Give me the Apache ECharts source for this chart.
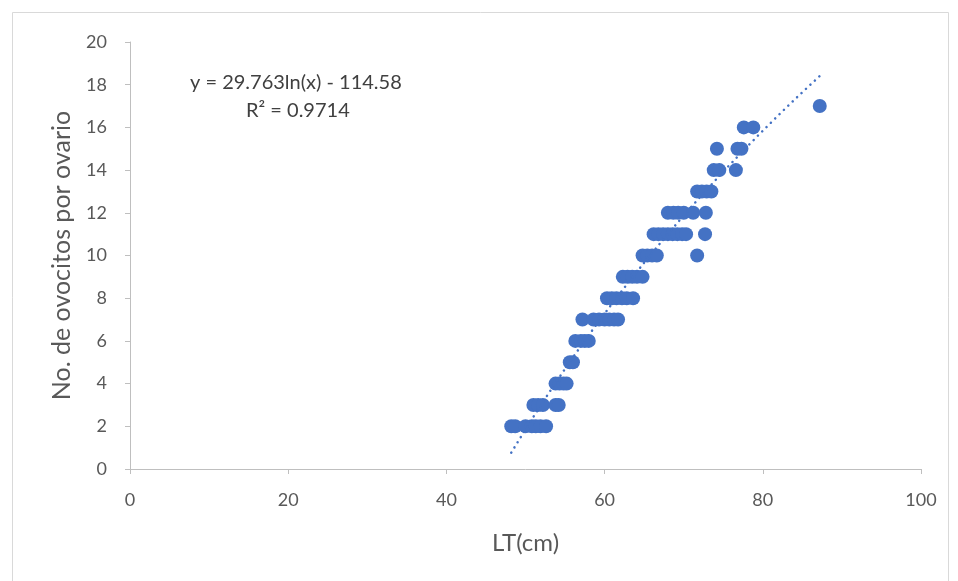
<!DOCTYPE html>
<html><head><meta charset="utf-8">
<script src="https://cdn.jsdelivr.net/npm/echarts@6/dist/echarts.min.js"></script>
<style>html,body{margin:0;padding:0;background:#fff}#c{width:958px;height:581px}</style>
</head><body><div id="c"></div>
<script>
// Observed points: LT (cm) per row of No. de ovocitos
const row2 = [48.2, 48.7, 50.0, 50.8, 51.3, 51.9, 52.6];
const row3 = [51.0, 51.6, 52.2, 53.8, 54.2];
const row4 = [53.8, 54.3, 54.8, 55.2];
const row5 = [55.6, 56.0];
const row6 = [56.3, 57.0, 57.5, 58.0];
const row7 = [57.2, 58.6, 59.3, 60.0, 60.6, 61.2, 61.7];
const row8 = [60.3, 60.9, 61.5, 62.2, 62.8, 63.6];
const row9 = [62.3, 62.9, 63.5, 64.1, 64.8];
const row10 = [64.8, 65.4, 66.0, 66.6, 71.7];
const row11 = [66.2, 66.8, 67.4, 68.0, 68.6, 69.2, 69.8, 70.3, 72.7];
const row12 = [68.0, 68.7, 69.3, 70.0, 71.2, 72.8];
const row13 = [71.7, 72.3, 72.9, 73.5];
const row14 = [73.8, 74.5, 76.6];
const row15 = [74.2, 76.8, 77.3];
const row16 = [77.6, 78.8];
const row17 = [87.2];
const rowValues = [2,3,4,5,6,7,8,9,10,11,12,13,14,15,16,17];
const rowLT = [row2,row3,row4,row5,row6,row7,row8,row9,row10,row11,row12,row13,row14,row15,row16,row17];

// Trendline y = a ln(x) + b, as printed on the chart
const trendA = 29.763, trendB = -114.58;
const trendXMin = 48.2, trendXMax = 87.2;
const equationText = 'y = 29.763ln(x) - 114.58';
const r2Text = 'R² = 0.9714';

const xTicks = [0,20,40,60,80,100];
const yTicks = [0,2,4,6,8,10,12,14,16,18,20];

const scatterData = [];
rowLT.forEach((arr,i)=>arr.forEach(x=>scatterData.push([x,rowValues[i]])));
const trendData = [];
for(let k=0;k<=80;k++){const x=trendXMin+(trendXMax-trendXMin)*k/80;trendData.push([x,trendA*Math.log(x)+trendB]);}

const FONT = 'Lato, "Liberation Sans", sans-serif';
const chart = echarts.init(document.getElementById('c'));
chart.setOption({
  animation:false,
  backgroundColor:'#fff',
  grid:{left:130,right:37,top:42,bottom:112},
  graphic:[
    {type:'rect',shape:{x:12.5,y:12.5,width:936,height:600},style:{fill:null,stroke:'#d9d9d9',lineWidth:1},silent:true},
    {type:'text',left:190,top:73,style:{text:equationText,font:'20px '+FONT,fill:'#404040'}},
    {type:'text',left:246,top:101,style:{text:r2Text,font:'20px '+FONT,fill:'#404040'}}
  ],
  xAxis:{type:'value',min:xTicks[0],max:xTicks[xTicks.length-1],interval:20,
    name:'LT(cm)',nameLocation:'middle',nameGap:62,
    nameTextStyle:{fontFamily:FONT,fontSize:24,color:'#595959'},
    axisLine:{show:true,lineStyle:{color:'#bfbfbf',width:1}},
    axisTick:{show:true,length:5,lineStyle:{color:'#bfbfbf'}},
    axisLabel:{fontFamily:FONT,fontSize:18,color:'#595959',margin:22},
    splitLine:{show:false}},
  yAxis:{type:'value',min:yTicks[0],max:yTicks[yTicks.length-1],interval:2,
    name:'No. de ovocitos por ovario',nameLocation:'middle',nameGap:56,
    nameTextStyle:{fontFamily:FONT,fontSize:25,color:'#595959'},
    axisLine:{show:true,lineStyle:{color:'#bfbfbf',width:1}},
    axisTick:{show:true,length:5,lineStyle:{color:'#bfbfbf'}},
    axisLabel:{fontFamily:FONT,fontSize:18,color:'#595959',margin:23},
    splitLine:{show:false}},
  series:[
    {type:'line',data:trendData,showSymbol:false,symbol:'none',z:3,
     lineStyle:{color:'#4472C4',width:2.5,type:[0.1,6],cap:'round'}},
    {type:'scatter',data:scatterData,symbolSize:14,z:2,itemStyle:{color:'#4472C4',opacity:1}}
  ]
});
</script></body></html>
